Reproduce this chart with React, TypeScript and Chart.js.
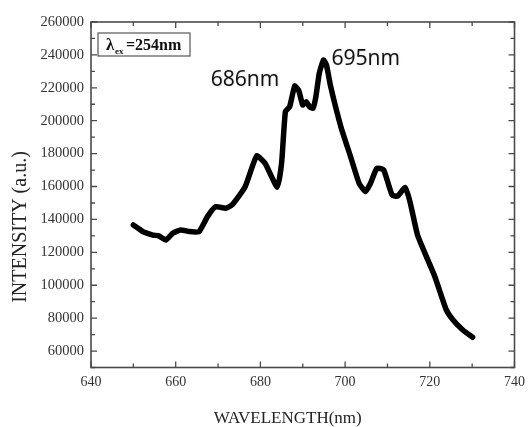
import React, { useEffect, useRef } from "react";
import { Chart, registerables } from "chart.js";

Chart.register(...registerables);

// Emission spectrum (excitation at 254 nm)
const wavelength = [
  650, 651.2, 652.3, 654.6, 656, 657.7, 659.3, 661.2, 663.2, 665.5,
  667.5, 669.4, 671.8, 673.3, 676.4, 679.1, 681.1, 684.0, 685.0, 685.9,
  686.9, 688.1, 689.0, 690.0, 690.8, 691.6, 692.4, 693.1, 693.9, 694.9,
  695.6, 696.6, 699.0, 701.3, 703.3, 704.8, 706.0, 707.5, 709.1, 711.1,
  712.4, 714.2, 715.3, 717.1, 719.2, 721.2, 723.9, 725.5, 727.8, 730.1,
];
const intensity = [
  136600, 134500, 132500, 130500, 130000, 127500, 131600, 133600, 132600, 132600,
  141700, 147700, 146800, 148800, 159900, 178600, 174100, 159500, 174100, 205500,
  208500, 221100, 218700, 209600, 211600, 208500, 207600, 214600, 228800, 236900,
  233900, 220700, 196400, 178100, 162000, 156900, 162000, 171100, 170100, 154800,
  154200, 159400, 151000, 130500, 117400, 105200, 85000, 78900, 72800, 68400,
];

const xTicks = [640, 660, 680, 700, 720, 740];
const yTicks = [60000, 80000, 100000, 120000, 140000, 160000, 180000, 200000, 220000, 240000, 260000];
const peakNames = ["686nm", "695nm"];
const xTitle = "WAVELENGTH(nm)";
const yTitle = "INTENSITY (a.u.)";
const excitation = "=254nm";

const SERIF = '"Liberation Serif", "Times New Roman", serif';

// Frame, inward tick marks, axis titles, peak annotations and the excitation box
const decorPlugin = {
  id: "decor",
  afterDraw(chart: any) {
    const { ctx, chartArea: a, scales } = chart;
    const xs = scales.x;
    const ys = scales.y;
    ctx.save();

    // frame
    ctx.strokeStyle = "#4a4a4a";
    ctx.lineWidth = 1.6;
    ctx.strokeRect(a.left, a.top, a.right - a.left, a.bottom - a.top);

    // x ticks (major every 20, minor every 10)
    ctx.lineWidth = 1.3;
    for (let v = 640; v <= 740; v += 10) {
      const px = xs.getPixelForValue(v);
      const len = v % 20 === 0 ? 6 : 4;
      ctx.beginPath();
      ctx.moveTo(px, a.bottom);
      ctx.lineTo(px, a.bottom - len);
      ctx.moveTo(px, a.top);
      ctx.lineTo(px, a.top + len);
      ctx.stroke();
    }
    // y ticks (major every 20000 from 60000, minor in between)
    for (let v = 50000; v <= 260000; v += 10000) {
      const py = ys.getPixelForValue(v);
      const len = (v - 60000) % 20000 === 0 ? 6 : 4;
      ctx.beginPath();
      ctx.moveTo(a.left, py);
      ctx.lineTo(a.left + len, py);
      ctx.moveTo(a.right, py);
      ctx.lineTo(a.right - len, py);
      ctx.stroke();
    }

    // axis titles
    ctx.fillStyle = "#222";
    ctx.font = `17px ${SERIF}`;
    ctx.textAlign = "center";
    ctx.textBaseline = "alphabetic";
    ctx.fillText(xTitle, (a.left + a.right) / 2 - 15, chart.height - 4);

    ctx.save();
    ctx.translate(26, 227);
    ctx.rotate(-Math.PI / 2);
    ctx.font = `20px ${SERIF}`;
    ctx.fillText(yTitle, 0, 0);
    ctx.restore();

    // peak annotations
    const peakAt = [
      [668.3, 221100],
      [696.8, 233900],
    ];
    ctx.font = '21px "Open Sans", "Noto Sans", sans-serif';
    ctx.textAlign = "left";
    ctx.fillStyle = "#111";
    ctx.shadowColor = "rgba(0,0,0,0.25)";
    ctx.shadowBlur = 1.5;
    ctx.shadowOffsetX = 0.5;
    ctx.shadowOffsetY = 0.5;
    peakNames.forEach((t, i) => {
      ctx.fillText(t, xs.getPixelForValue(peakAt[i][0]), ys.getPixelForValue(peakAt[i][1]));
    });
    ctx.shadowColor = "transparent";
    ctx.shadowBlur = 0;
    ctx.shadowOffsetX = 0;
    ctx.shadowOffsetY = 0;

    // excitation box
    const bx = a.left + 7;
    const by = a.top + 11;
    ctx.fillStyle = "#fff";
    ctx.fillRect(bx, by, 92, 23);
    ctx.strokeStyle = "#555";
    ctx.lineWidth = 1.2;
    ctx.strokeRect(bx, by, 92, 23);
    ctx.fillStyle = "#111";
    ctx.font = `bold 17px ${SERIF}`;
    ctx.fillText("\u03BB", bx + 8, by + 17);
    ctx.font = `bold 9px ${SERIF}`;
    ctx.fillText("ex", bx + 17, by + 21);
    ctx.font = `bold 16px ${SERIF}`;
    ctx.fillText(excitation, bx + 28, by + 17);

    ctx.restore();
  },
};

export default function App() {
  const ref = useRef<HTMLCanvasElement | null>(null);

  useEffect(() => {
    if (!ref.current) return;
    const chart = new Chart(ref.current, {
      type: "line",
      data: {
        datasets: [
          {
            data: wavelength.map((w, i) => ({ x: w, y: intensity[i] })),
            borderColor: "#000",
            borderWidth: 5.5,
            borderJoinStyle: "round",
            borderCapStyle: "round",
            pointRadius: 0,
            tension: 0.15,
            fill: false,
          },
        ],
      },
      options: {
        animation: false,
        responsive: false,
        maintainAspectRatio: false,
        layout: { padding: { left: 0, top: 22, right: 12, bottom: 0 } },
        plugins: { legend: { display: false }, tooltip: { enabled: false } },
        scales: {
          x: {
            type: "linear",
            min: 640,
            max: 740,
            afterBuildTicks: (s: any) => {
              s.ticks = xTicks.map((v) => ({ value: v }));
            },
            afterFit: (s: any) => {
              s.height = 59.5;
            },
            grid: { display: false, drawTicks: false },
            border: { display: false },
            ticks: {
              font: { family: SERIF, size: 14 },
              color: "#333",
              padding: 6,
              maxRotation: 0,
              autoSkip: false,
              callback: (v: any) => String(v),
            },
          },
          y: {
            type: "linear",
            min: 50000,
            max: 260000,
            afterBuildTicks: (s: any) => {
              s.ticks = yTicks.map((v) => ({ value: v }));
            },
            afterFit: (s: any) => {
              s.width = 91;
            },
            grid: { display: false, drawTicks: false },
            border: { display: false },
            ticks: {
              font: { family: SERIF, size: 14.5 },
              color: "#333",
              padding: 7,
              autoSkip: false,
              callback: (v: any) => String(v),
            },
          },
        },
      },
      plugins: [decorPlugin],
    });
    return () => chart.destroy();
  }, []);

  return (
    <div style={{ position: "absolute", left: 0, top: 0, width: 531, height: 427, background: "#fff" }}>
      <canvas ref={ref} width={531} height={427} style={{ display: "block", width: 531, height: 427 }} />
    </div>
  );
}
